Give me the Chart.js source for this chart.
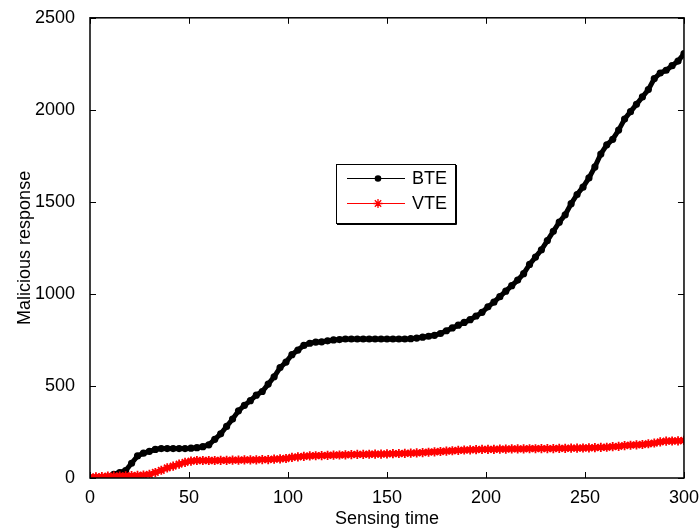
<!DOCTYPE html>
<html>
<head>
<meta charset="utf-8">
<script src="https://cdn.jsdelivr.net/npm/chart.js@4.4.1/dist/chart.umd.min.js"></script>
<style>
  html, body { margin: 0; padding: 0; background: #fff; }
  #wrap { width: 700px; height: 530px; }
</style>
</head>
<body>
<div id="wrap"><canvas id="myChart" width="700" height="530"></canvas></div>
<script>
const SENSING_TIME = [
    0, 3, 6, 9, 12, 15, 18, 21, 24, 27,
    30, 33, 36, 39, 42, 45, 48, 51, 54, 57,
    60, 63, 66, 69, 72, 75, 78, 81, 84, 87,
    90, 93, 96, 99, 102, 105, 108, 111, 114, 117,
    120, 123, 126, 129, 132, 135, 138, 141, 144, 147,
    150, 153, 156, 159, 162, 165, 168, 171, 174, 177,
    180, 183, 186, 189, 192, 195, 198, 201, 204, 207,
    210, 213, 216, 219, 222, 225, 228, 231, 234, 237,
    240, 243, 246, 249, 252, 255, 258, 261, 264, 267,
    270, 273, 276, 279, 282, 285, 288, 291, 294, 297,
    300
];
const BTE = [
    0, 0, 2, 5, 20, 30, 40, 80, 120, 135,
    145, 155, 160, 160, 160, 160, 160, 162, 165, 170,
    180, 210, 240, 280, 320, 365, 395, 420, 450, 470,
    510, 550, 600, 630, 670, 695, 720, 732, 738, 740,
    745, 750, 752, 755, 755, 755, 755, 755, 755, 755,
    755, 755, 755, 755, 757, 760, 765, 770, 775, 785,
    800, 815, 830, 845, 860, 880, 900, 930, 955, 985,
    1015, 1045, 1075, 1110, 1160, 1200, 1240, 1290, 1340, 1390,
    1430, 1490, 1540, 1580, 1630, 1690, 1760, 1810, 1840, 1890,
    1950, 1990, 2030, 2070, 2110, 2170, 2200, 2215, 2240, 2265,
    2305
];
const VTE = [
    5, 6, 8, 10, 10, 11, 12, 13, 14, 16,
    20, 30, 42, 55, 65, 75, 85, 92, 95, 95,
    95, 95, 96, 96, 97, 97, 98, 98, 99, 100,
    100, 102, 104, 106, 112, 115, 118, 120, 121, 122,
    123, 124, 125, 126, 127, 128, 128, 129, 130, 130,
    131, 132, 133, 134, 135, 136, 138, 140, 142, 144,
    146, 148, 150, 152, 153, 154, 155, 156, 156, 157,
    157, 158, 158, 158, 159, 159, 160, 160, 160, 161,
    161, 162, 162, 163, 164, 165, 166, 167, 170, 172,
    176, 178, 180, 182, 186, 190, 196, 200, 201, 202,
    204
];
const X_TICKS = [0, 50, 100, 150, 200, 250, 300];
const Y_TICKS = [0, 500, 1000, 1500, 2000, 2500];

const FONT = '"Liberation Sans", Arial, sans-serif';

function toPoints(values) {
    return values.map((v, i) => ({x: SENSING_TIME[i], y: v}));
}

// matlab style box with inward ticks on every side
const boxPlugin = {
    id: 'box',
    afterDatasetsDraw(chart) {
        const c = chart.ctx, a = chart.chartArea;
        const xs = chart.scales.x, ys = chart.scales.y;
        const len = 6;
        c.save();
        c.strokeStyle = '#000';
        c.lineWidth = 1;
        c.beginPath();
        X_TICKS.forEach(t => {
            const px = Math.round(xs.getPixelForValue(t)) + 0.5;
            c.moveTo(px, a.bottom); c.lineTo(px, a.bottom - len);
            c.moveTo(px, a.top); c.lineTo(px, a.top + len);
        });
        Y_TICKS.forEach(t => {
            const py = Math.round(ys.getPixelForValue(t)) + 0.5;
            c.moveTo(a.left, py); c.lineTo(a.left + len, py);
            c.moveTo(a.right, py); c.lineTo(a.right - len, py);
        });
        c.stroke();
        c.lineWidth = 1.5;
        c.strokeRect(a.left, a.top, a.right - a.left, a.bottom - a.top);
        c.restore();
    }
};

function drawStar(c, x, y, r) {
    c.beginPath();
    c.moveTo(x - r, y); c.lineTo(x + r, y);
    c.moveTo(x, y - r); c.lineTo(x, y + r);
    const d = r * 0.707;
    c.moveTo(x - d, y - d); c.lineTo(x + d, y + d);
    c.moveTo(x - d, y + d); c.lineTo(x + d, y - d);
    c.stroke();
}

const legendPlugin = {
    id: 'boxLegend',
    afterDraw(chart) {
        const c = chart.ctx;
        const bx = 336, by = 164, bw = 119, bh = 59;
        c.save();
        c.fillStyle = '#fff';
        c.fillRect(bx, by, bw, bh);
        c.strokeStyle = '#000';
        c.lineWidth = 1;
        c.strokeRect(bx + 0.5, by + 0.5, bw, bh);
        c.beginPath();
        c.moveTo(bx + bw + 1.5, by + 1); c.lineTo(bx + bw + 1.5, by + bh + 1.5);
        c.lineTo(bx + 1, by + bh + 1.5);
        c.stroke();

        const rows = [
            {label: 'BTE', color: '#000', y: 178.5, marker: 'dot'},
            {label: 'VTE', color: '#ff0000', y: 203.5, marker: 'star'}
        ];
        c.font = '18px ' + FONT;
        c.textBaseline = 'middle';
        rows.forEach(r => {
            c.strokeStyle = r.color;
            c.lineWidth = 1;
            c.beginPath();
            c.moveTo(347, r.y); c.lineTo(405, r.y);
            c.stroke();
            if (r.marker === 'dot') {
                c.fillStyle = r.color;
                c.beginPath();
                c.arc(378, r.y, 3.3, 0, Math.PI * 2);
                c.fill();
            } else {
                c.lineWidth = 1.3;
                drawStar(c, 378, r.y, 4.5);
            }
            c.fillStyle = '#000';
            c.fillText(r.label, 412, r.y + 1);
        });
        c.restore();
    }
};

var ctx = document.getElementById('myChart').getContext('2d');
var myChart = new Chart(ctx, {
    type: 'line',
    data: {
        datasets: [{
            label: 'BTE',
            data: toPoints(BTE),
            borderColor: '#000',
            backgroundColor: '#000',
            borderWidth: 5,
            pointStyle: 'circle',
            pointRadius: 3.6,
            pointBorderWidth: 0,
            fill: false,
            tension: 0,
            order: 1
        }, {
            label: 'VTE',
            data: toPoints(VTE),
            borderColor: '#ff0000',
            backgroundColor: '#ff0000',
            borderWidth: 5,
            pointStyle: 'star',
            pointRadius: 4.6,
            pointBorderWidth: 1.8,
            fill: false,
            tension: 0,
            order: 0
        }]
    },
    options: {
        responsive: false,
        animation: false,
        events: [],
        layout: { padding: { left: 0, right: 15, top: 16, bottom: 0 } },
        plugins: {
            legend: { display: false },
            tooltip: { enabled: false }
        },
        scales: {
            x: {
                type: 'linear',
                min: 0,
                max: 300,
                afterFit: s => { s.height = 52; },
                afterBuildTicks: s => { s.ticks = X_TICKS.map(v => ({value: v})); },
                grid: { display: false },
                border: { display: false },
                ticks: { color: '#000', font: { family: FONT, size: 18 }, padding: 1, maxRotation: 0, callback: v => String(v) },
                title: { display: true, text: 'Sensing time', color: '#000', font: { family: FONT, size: 18 }, padding: { top: 0, bottom: 0 } }
            },
            y: {
                min: 0,
                max: 2500,
                afterFit: s => { s.width = 90; },
                afterBuildTicks: s => { s.ticks = Y_TICKS.map(v => ({value: v})); },
                grid: { display: false },
                border: { display: false },
                ticks: { color: '#000', font: { family: FONT, size: 18 }, padding: 7, callback: v => String(v) },
                title: { display: true, text: 'Malicious response', color: '#000', font: { family: FONT, size: 18 }, padding: { top: 14, bottom: 0 } }
            }
        }
    },
    plugins: [boxPlugin, legendPlugin]
});
</script>
</body>
</html>
